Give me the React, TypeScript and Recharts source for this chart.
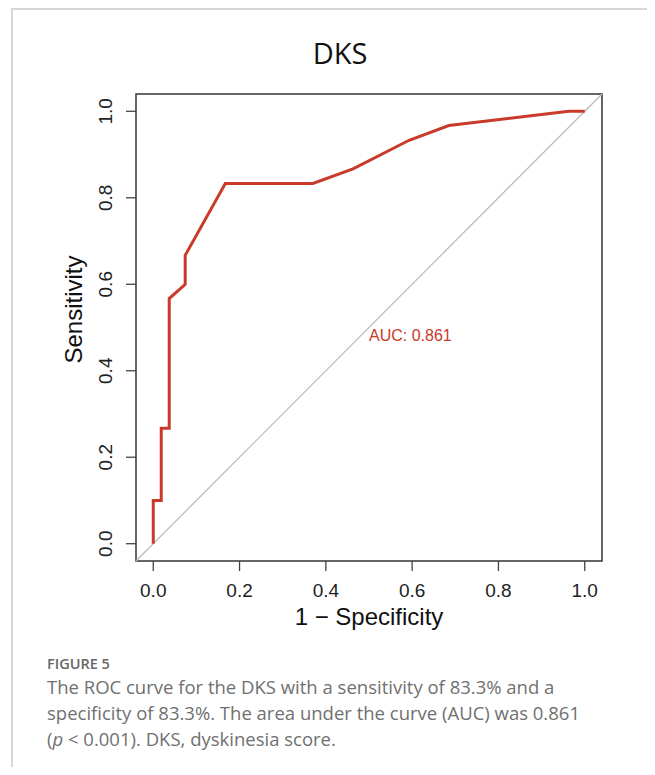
import React from "react";
import { LineChart, Line, XAxis, YAxis, ReferenceLine, ReferenceArea, ReferenceDot } from "recharts";

// ROC points: 1 - specificity vs sensitivity
const fpr = [0, 0, 0.0185, 0.0185, 0.037, 0.037, 0.074, 0.074, 0.167, 0.37, 0.463, 0.593, 0.685, 0.963, 1.0];
const sensitivity = [0, 0.1, 0.1, 0.267, 0.267, 0.567, 0.6, 0.667, 0.833, 0.833, 0.867, 0.933, 0.967, 1.0, 1.0];
const axisTicks = [0, 0.2, 0.4, 0.6, 0.8, 1.0];
const aucLabel = "AUC: 0.861";

const rocData = fpr.map((x, i) => ({ fpr: x, sens: sensitivity[i] }));

const RED = "#c93a2b";
const AXIS_FONT = "'Liberation Sans', Arial, sans-serif";

function XTick(props: any) {
  const { x, y, payload } = props;
  return (
    <text x={x} y={y + 24} textAnchor="middle" fontSize={19} fill="#222" fontFamily={AXIS_FONT}>
      {Number(payload.value).toFixed(1)}
    </text>
  );
}

function YTick(props: any) {
  const { x, y, payload } = props;
  return (
    <text transform={`translate(${x - 12},${y}) rotate(-90)`} textAnchor="middle" fontSize={19} fill="#222" fontFamily={AXIS_FONT}>
      {Number(payload.value).toFixed(1)}
    </text>
  );
}

export default function App() {
  return (
    <div style={{ position: "relative", width: 655, height: 775, margin: -8, background: "#fff", overflow: "hidden" }}>
      <div
        style={{
          position: "absolute",
          left: 11,
          top: 8,
          width: 660,
          height: 780,
          borderTop: "2px solid #d6d6d6",
          borderLeft: "2px solid #d6d6d6",
        }}
      />
      <div
        style={{
          position: "absolute",
          left: 240,
          top: 38,
          width: 200,
          textAlign: "center",
          fontFamily: "'Open Sans', sans-serif",
          fontSize: 29,
          lineHeight: "29px",
          color: "#111",
        }}
      >
        DKS
      </div>
      <div style={{ position: "absolute", left: 0, top: 0 }}>
        <LineChart width={655} height={640} data={rocData} margin={{ top: 94, right: 53, bottom: 19, left: 76 }}>
          <XAxis
            dataKey="fpr"
            type="number"
            domain={[-0.04, 1.04]}
            ticks={axisTicks}
            allowDataOverflow
            height={60}
            axisLine={false}
            tickLine={{ stroke: "#444", strokeWidth: 1.3 }}
            tickSize={10}
            tickMargin={2}
            tick={<XTick />}
            label={{
              content: (p: any) => {
                const vb = p.viewBox;
                return (
                  <text x={vb.x + vb.width / 2} y={vb.y + 64} textAnchor="middle" fontSize={24} fill="#111" fontFamily={AXIS_FONT}>
                    1 − Specificity
                  </text>
                );
              },
            }}
          />
          <YAxis
            dataKey="sens"
            type="number"
            domain={[-0.04, 1.04]}
            ticks={axisTicks}
            allowDataOverflow
            width={60}
            axisLine={false}
            tickLine={{ stroke: "#444", strokeWidth: 1.3 }}
            tickSize={10}
            tickMargin={2}
            tick={<YTick />}
            label={{
              content: (p: any) => {
                const vb = p.viewBox;
                return (
                  <text
                    transform={`translate(${vb.x + 6},${vb.y + vb.height / 2 - 18}) rotate(-90)`}
                    textAnchor="middle"
                    fontSize={24}
                    fill="#111"
                    fontFamily={AXIS_FONT}
                  >
                    Sensitivity
                  </text>
                );
              },
            }}
          />
          <ReferenceArea x1={-0.04} x2={1.04} y1={-0.04} y2={1.04} fill="none" fillOpacity={0} stroke="#333" strokeWidth={1.5} />
          <ReferenceLine
            segment={[
              { x: -0.04, y: -0.04 },
              { x: 1.04, y: 1.04 },
            ]}
            stroke="#b8b8b8"
            strokeWidth={1.2}
          />
          <ReferenceDot
            x={0.5}
            y={0.5}
            r={1}
            fill="none"
            stroke="none"
            label={{
              content: (p: any) => {
                const vb = p.viewBox;
                const cx = vb.x + (vb.width || 0) / 2;
                const cy = vb.y + (vb.height || 0) / 2;
                return (
                  <text x={cx} y={cy + 13.5} textAnchor="start" fontSize={16} fill={RED} fontFamily={AXIS_FONT}>
                    {aucLabel}
                  </text>
                );
              },
            }}
          />
          <Line type="linear" dataKey="sens" stroke={RED} strokeWidth={3} dot={false} isAnimationActive={false} />
        </LineChart>
      </div>
      <div
        style={{
          position: "absolute",
          left: 47,
          top: 657,
          fontFamily: "'Open Sans', sans-serif",
          fontSize: 14.5,
          lineHeight: "14.5px",
          fontWeight: 600,
          color: "#666",
        }}
      >
        FIGURE 5
      </div>
      <div
        style={{
          position: "absolute",
          left: 47,
          top: 673.7,
          width: 600,
          fontFamily: "'Open Sans', sans-serif",
          fontSize: 18.5,
          lineHeight: "26.3px",
          color: "#707070",
          whiteSpace: "nowrap",
        }}
      >
        The ROC curve for the DKS with a sensitivity of 83.3% and a
        <br />
        specificity of 83.3%. The area under the curve (AUC) was 0.861
        <br />(<i>p</i> &lt; 0.001). DKS, dyskinesia score.
      </div>
    </div>
  );
}
